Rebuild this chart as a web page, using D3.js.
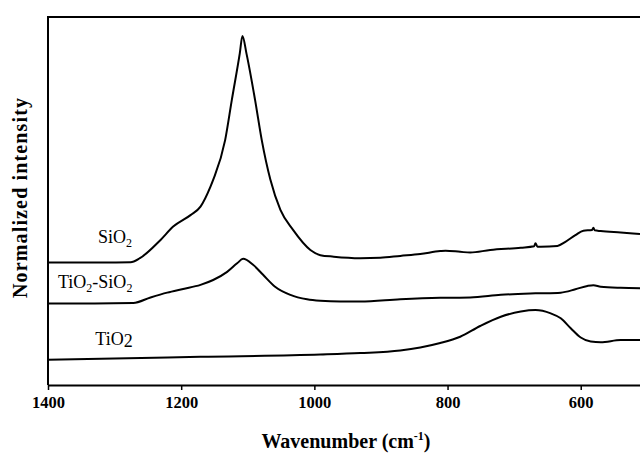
<!DOCTYPE html>
<html>
<head>
<meta charset="utf-8">
<script src="https://cdn.jsdelivr.net/npm/d3@7"></script>
<style>
  html, body { margin: 0; padding: 0; background: #fff; }
  svg { display: block; font-family: "Liberation Serif", "Times New Roman", serif; }
</style>
</head>
<body>
<div id="chart"></div>
<script>
// wavenumbers (cm-1) and normalized intensity
const sio2Wn = [1400, 1320, 1276, 1262, 1231, 1212, 1186, 1171, 1156, 1152, 1134, 1124, 1112, 1108, 1102, 1089, 1079, 1066, 1051, 1032, 1006, 991, 971, 931, 901, 871, 841, 811, 803, 781, 766, 736, 690, 670, 668, 665, 660, 635, 623, 608, 596, 583, 581, 579, 570, 540, 511];
const sio2Val = [0.338, 0.338, 0.339, 0.350, 0.399, 0.435, 0.466, 0.489, 0.543, 0.561, 0.668, 0.776, 0.902, 0.949, 0.902, 0.776, 0.668, 0.561, 0.480, 0.426, 0.372, 0.358, 0.354, 0.350, 0.351, 0.356, 0.361, 0.369, 0.370, 0.367, 0.365, 0.372, 0.378, 0.382, 0.390, 0.381, 0.381, 0.383, 0.394, 0.412, 0.424, 0.426, 0.432, 0.425, 0.423, 0.419, 0.415];

const mixWn = [1400, 1330, 1272, 1246, 1221, 1197, 1171, 1152, 1131, 1116, 1107, 1092, 1077, 1059, 1036, 1011, 991, 961, 931, 871, 811, 766, 720, 668, 630, 608, 590, 581, 570, 540, 511];
const mixVal = [0.228, 0.228, 0.229, 0.244, 0.257, 0.267, 0.278, 0.291, 0.313, 0.336, 0.348, 0.332, 0.305, 0.273, 0.251, 0.239, 0.235, 0.233, 0.233, 0.239, 0.243, 0.244, 0.251, 0.255, 0.257, 0.266, 0.275, 0.277, 0.273, 0.270, 0.269];

const tio2Wn = [1400, 1171, 991, 931, 871, 841, 811, 781, 751, 720, 690, 668, 645, 630, 615, 600, 585, 570, 540, 511];
const tio2Val = [0.076, 0.084, 0.090, 0.094, 0.101, 0.109, 0.121, 0.138, 0.167, 0.192, 0.206, 0.210, 0.201, 0.188, 0.161, 0.136, 0.125, 0.123, 0.129, 0.129];

const xTicks = [1400, 1200, 1000, 800, 600];

// curve labels: [main text, subscript, trailing text, subscript], anchor in data units
const labels = [
  { parts: [['SiO', 0], ['2', 1]], wn: 1325, val: 0.391 },
  { parts: [['TiO', 0], ['2', 1], ['-SiO', 0], ['2', 1]], wn: 1385, val: 0.270 },
  { parts: [['TiO', 0], ['2', 2]], wn: 1329, val: 0.115 },
];

const zip = (wn, val) => wn.map((w, i) => ({ wn: w, value: val[i] }));
const series = [zip(sio2Wn, sio2Val), zip(mixWn, mixVal), zip(tio2Wn, tio2Val)];

const W = 640, H = 453;
const svg = d3.select('#chart').append('svg').attr('width', W).attr('height', H);

const x = d3.scaleLinear().domain([1400, 511]).range([48, 640]);
const y = d3.scaleLinear().domain([0.008, 1]).range([385, 17]);

const line = d3.line()
  .x(d => x(d.wn))
  .y(d => y(d.value))
  .curve(d3.curveMonotoneX);

// frame: top and left, the figure is cut at the right edge
svg.append('path')
  .attr('d', `M${x(511)},${y(1)}H${x(1400)}V${y(0.008)}`)
  .attr('fill', 'none')
  .attr('stroke', '#000')
  .attr('stroke-width', 2);

const xAxis = svg.append('g')
  .attr('transform', `translate(0,${y(0.008)})`)
  .call(d3.axisBottom(x).tickValues(xTicks).tickSizeInner(5).tickSizeOuter(0).tickPadding(6).tickFormat(d3.format('d')));

xAxis.select('.domain').attr('stroke-width', 2);
xAxis.selectAll('.tick line').attr('stroke-width', 1.5);
xAxis.selectAll('.tick text')
  .attr('font-family', '"Liberation Serif", serif')
  .attr('font-size', 16.5)
  .attr('font-weight', 'bold')
  .attr('fill', '#000');

svg.append('g')
  .selectAll('path')
  .data(series)
  .join('path')
    .attr('fill', 'none')
    .attr('stroke', '#000')
    .attr('stroke-width', 2)
    .attr('stroke-linejoin', 'round')
    .attr('d', line);

labels.forEach((lab) => {
  const t = svg.append('text')
    .attr('x', x(lab.wn))
    .attr('y', y(lab.val))
    .attr('font-size', 18)
    .attr('fill', '#000');
  let shift = 0;
  lab.parts.forEach(([str, kind]) => {
    const dy = kind === 1 ? 4 : kind === 2 ? 2 : 0;
    t.append('tspan')
      .attr('dy', dy - shift)
      .attr('font-size', kind === 1 ? 12 : 18)
      .text(str);
    shift = dy;
  });
});

// axis titles
const xt = svg.append('text')
  .attr('x', 346)
  .attr('y', 448)
  .attr('text-anchor', 'middle')
  .attr('font-size', 20)
  .attr('font-weight', 'bold');
xt.append('tspan').text('Wavenumber (cm');
xt.append('tspan').attr('font-size', 12).attr('dy', -8).text('-1');
xt.append('tspan').attr('dy', 8).text(')');

svg.append('text')
  .attr('transform', 'translate(27,198) rotate(-90)')
  .attr('text-anchor', 'middle')
  .attr('font-size', 20)
  .attr('font-weight', 'bold')
  .attr('textLength', 200)
  .text('Normalized intensity');
</script>
</body>
</html>
